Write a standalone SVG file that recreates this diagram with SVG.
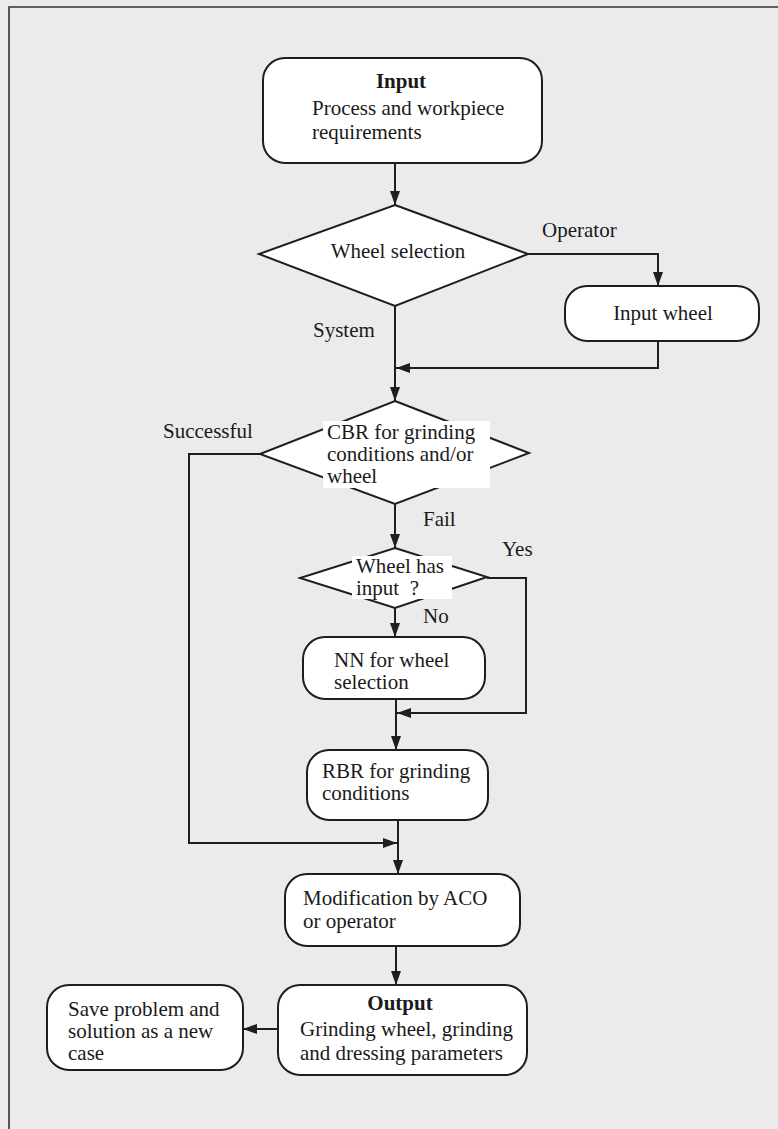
<svg xmlns="http://www.w3.org/2000/svg" width="778" height="1129" viewBox="0 0 778 1129">
  <style>
    .box { fill: #ffffff; stroke: #1e1e1e; stroke-width: 2; }
    .mask { fill: #ffffff; stroke: none; }
    .t { font-family: "Liberation Serif", "Times New Roman", serif; font-size: 21px; fill: #1a1a1a; }
    .s { font-size: 20px; }
    .b { font-weight: bold; }
    .c { text-anchor: middle; }
    .edge { fill: none; stroke: #1e1e1e; stroke-width: 2; }
  </style>
  <defs>
    <marker id="arrow" markerUnits="userSpaceOnUse" markerWidth="16" markerHeight="11" refX="14" refY="5" orient="auto">
      <path d="M0,0 L14,5 L0,10 z" fill="#1e1e1e"/>
    </marker>
  </defs>

  <!-- page background and frame -->
  <rect x="0" y="0" width="778" height="1129" fill="#ebebeb"/>
  <path d="M9,1129 V7 H778" fill="none" stroke="#333" stroke-width="1.6"/>

  <!-- connectors -->
  <g id="connectors">
    <path class="edge" d="M395,163 V205" marker-end="url(#arrow)"/>
    <path class="edge" d="M528,254 H658 V286" marker-end="url(#arrow)"/>
    <path class="edge" d="M658,341 V368 H396" marker-end="url(#arrow)"/>
    <path class="edge" d="M395,306 V401" marker-end="url(#arrow)"/>
    <path class="edge" d="M260,454 H189 V843 H397" marker-end="url(#arrow)"/>
    <path class="edge" d="M395,504 V548" marker-end="url(#arrow)"/>
    <path class="edge" d="M487,578 H526 V713 H397" marker-end="url(#arrow)"/>
    <path class="edge" d="M395,608 V637" marker-end="url(#arrow)"/>
    <path class="edge" d="M396,699 V750" marker-end="url(#arrow)"/>
    <path class="edge" d="M398,820 V874" marker-end="url(#arrow)"/>
    <path class="edge" d="M396,946 V985" marker-end="url(#arrow)"/>
    <path class="edge" d="M278,1029 H243" marker-end="url(#arrow)"/>
    <text class="t" x="542" y="237">Operator</text>
    <text class="t" x="313" y="337">System</text>
    <text class="t" x="163" y="438">Successful</text>
    <text class="t" x="423" y="526">Fail</text>
    <text class="t" x="502" y="556">Yes</text>
    <text class="t" x="423" y="623">No</text>
  </g>

  <!-- Input -->
  <g id="input">
    <rect class="box" x="263" y="58" width="279" height="105" rx="22"/>
    <text class="t b c" x="401" y="88">Input</text>
    <text class="t" x="312" y="115">Process and workpiece</text>
    <text class="t" x="312" y="139">requirements</text>
  </g>

  <!-- Wheel selection decision -->
  <g id="wheel-selection">
    <polygon class="box" points="395,205 528,254 395,306 259,254"/>
    <text class="t c" x="398" y="258">Wheel selection</text>
  </g>

  <!-- Input wheel -->
  <g id="input-wheel">
    <rect class="box" x="565" y="286" width="194" height="55" rx="22"/>
    <text class="t c" x="663" y="320">Input wheel</text>
  </g>

  <!-- CBR decision -->
  <g id="cbr">
    <polygon class="box" points="395,401 529,453 395,504 260,454"/>
    <rect class="mask" x="323" y="421" width="167" height="67"/>
    <text class="t" x="327" y="439">CBR for grinding</text>
    <text class="t" x="327" y="461">conditions and/or</text>
    <text class="t" x="327" y="483">wheel</text>
  </g>

  <!-- Wheel has input decision -->
  <g id="wheel-has-input">
    <polygon class="box" points="395,548 487,577 395,608 300,578"/>
    <rect class="mask" x="352" y="556" width="100" height="43"/>
    <text class="t" x="356" y="573">Wheel has</text>
    <text class="t" x="356" y="595">input&#160; ?</text>
  </g>

  <!-- NN -->
  <g id="nn">
    <rect class="box" x="303" y="637" width="182" height="62" rx="22"/>
    <text class="t" x="334" y="667">NN for wheel</text>
    <text class="t" x="334" y="689">selection</text>
  </g>

  <!-- RBR -->
  <g id="rbr">
    <rect class="box" x="307" y="750" width="181" height="70" rx="22"/>
    <text class="t" x="322" y="778">RBR for grinding</text>
    <text class="t" x="322" y="800">conditions</text>
  </g>

  <!-- Modification -->
  <g id="modification">
    <rect class="box" x="285" y="874" width="235" height="72" rx="22"/>
    <text class="t" x="303" y="905">Modification by ACO</text>
    <text class="t" x="303" y="928">or operator</text>
  </g>

  <!-- Output -->
  <g id="output">
    <rect class="box" x="278" y="985" width="249" height="90" rx="22"/>
    <text class="t b c" x="400" y="1010">Output</text>
    <text class="t" x="300" y="1036">Grinding wheel, grinding</text>
    <text class="t" x="300" y="1060">and dressing parameters</text>
  </g>

  <!-- Save case -->
  <g id="save-case">
    <rect class="box" x="47" y="985" width="196" height="85" rx="22"/>
    <text class="t" x="68" y="1016">Save problem and</text>
    <text class="t" x="68" y="1038">solution as a new</text>
    <text class="t" x="68" y="1060">case</text>
  </g>
</svg>
